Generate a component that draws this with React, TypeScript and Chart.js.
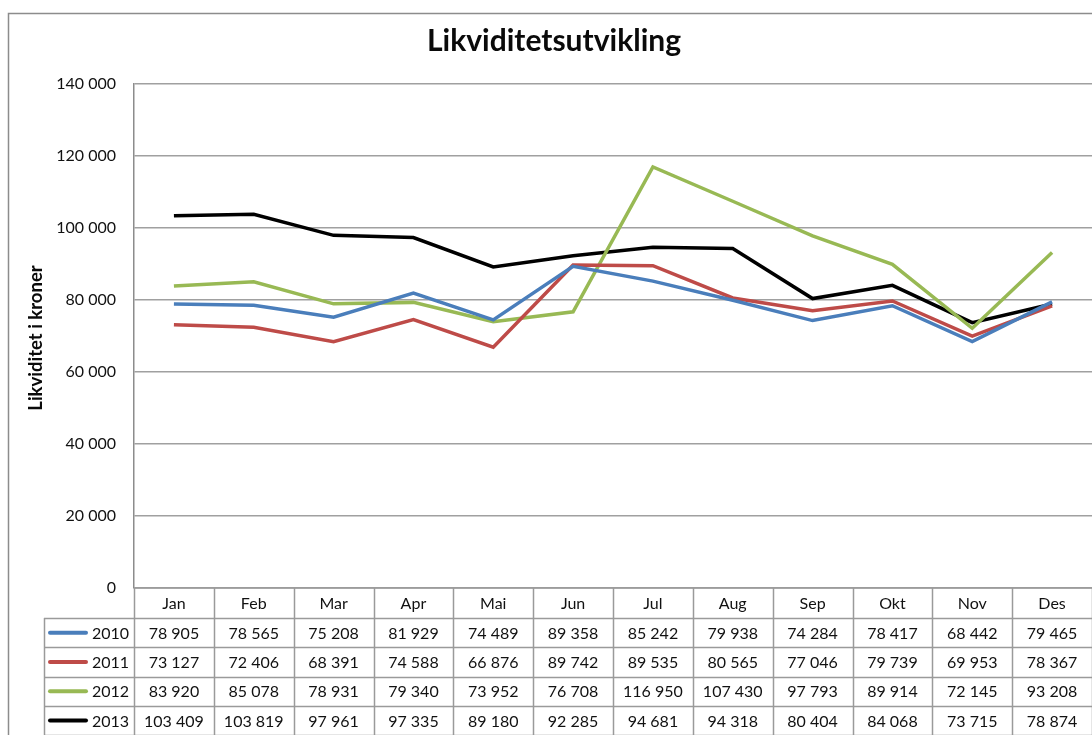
import { useEffect, useRef } from "react";
import { Chart, registerables } from "chart.js";

Chart.register(...registerables);

const chartTitle = "Likviditetsutvikling";
const yAxisTitle = "Likviditet i kroner";
const months = ["Jan", "Feb", "Mar", "Apr", "Mai", "Jun", "Jul", "Aug", "Sep", "Okt", "Nov", "Des"];
const seriesNames = ["2010", "2011", "2012", "2013"];
const values2010 = [78905, 78565, 75208, 81929, 74489, 89358, 85242, 79938, 74284, 78417, 68442, 79465];
const values2011 = [73127, 72406, 68391, 74588, 66876, 89742, 89535, 80565, 77046, 79739, 69953, 78367];
const values2012 = [83920, 85078, 78931, 79340, 73952, 76708, 116950, 107430, 97793, 89914, 72145, 93208];
const values2013 = [103409, 103819, 97961, 97335, 89180, 92285, 94681, 94318, 80404, 84068, 73715, 78874];
const seriesColors = ["#4a7ebb", "#be4b48", "#98b954", "#000000"];
const yMin = 0;
const yMax = 140000;
const yStep = 20000;

const FONT = "Lato, 'Open Sans', sans-serif";

const fmt = (n: number) => String(n).replace(/\B(?=(\d{3})+(?!\d))/g, " ");

export default function App() {
  const ref = useRef<HTMLCanvasElement | null>(null);

  useEffect(() => {
    const canvas = ref.current;
    if (!canvas) return;
    const allValues = [values2010, values2011, values2012, values2013];

    const decor = {
      id: "decor",
      afterDraw(chart: any) {
        const ctx = chart.ctx as CanvasRenderingContext2D;
        const area = chart.chartArea;
        const xs = chart.scales.x;
        const colW = (area.right - area.left) / months.length;
        ctx.save();
        // outer border
        ctx.strokeStyle = "#8c8c8c";
        ctx.lineWidth = 1.5;
        ctx.strokeRect(8.5, 13.5, 1300, 900);
        // title
        ctx.fillStyle = "#0a0a0a";
        ctx.font = `bold 30px ${FONT}`;
        ctx.textAlign = "center";
        ctx.textBaseline = "middle";
        ctx.fillText(chartTitle, 554, 41);
        // y title
        ctx.save();
        ctx.translate(36, 338);
        ctx.rotate(-Math.PI / 2);
        ctx.font = `bold 18.5px ${FONT}`;
        ctx.fillText(yAxisTitle, 0, 0);
        ctx.restore();

        // data table
        const top = area.bottom;
        const headerH = 30;
        const rowH = 29.3;
        const legendLeft = 44;
        const bottom = 760;
        ctx.strokeStyle = "#9a9a9a";
        ctx.lineWidth = 1.5;
        ctx.beginPath();
        ctx.moveTo(area.left, top);
        ctx.lineTo(area.right + 5, top);
        for (let r = 0; r <= seriesNames.length; r++) {
          const y = Math.round(top + headerH + r * rowH) + 0.5;
          ctx.moveTo(legendLeft, y);
          ctx.lineTo(area.right + 5, y);
        }
        ctx.moveTo(legendLeft + 0.5, top + headerH);
        ctx.lineTo(legendLeft + 0.5, bottom);
        for (let i = 0; i <= months.length; i++) {
          const x = Math.round(area.left + i * colW) + 0.5;
          ctx.moveTo(x, top);
          ctx.lineTo(x, bottom);
        }
        ctx.stroke();

        ctx.fillStyle = "#111";
        ctx.textAlign = "center";
        ctx.textBaseline = "middle";
        ctx.font = `16px ${FONT}`;
        months.forEach((m, i) => {
          ctx.fillText(m, xs.getPixelForValue(i), top + headerH / 2 + 1);
        });
        allValues.forEach((vals, r) => {
          const cy = top + headerH + r * rowH + rowH / 2 + 1;
          vals.forEach((v, i) => {
            ctx.fillText(fmt(v), xs.getPixelForValue(i), cy);
          });
        });
        // legend keys
        seriesNames.forEach((name, r) => {
          const cy = top + headerH + r * rowH + rowH / 2;
          ctx.strokeStyle = seriesColors[r];
          ctx.lineWidth = 4;
          ctx.lineCap = "round";
          ctx.beginPath();
          ctx.moveTo(50, cy);
          ctx.lineTo(86, cy);
          ctx.stroke();
          ctx.fillStyle = "#111";
          ctx.font = `16px ${FONT}`;
          ctx.textAlign = "right";
          ctx.fillText(name, 129, cy + 1);
        });
        ctx.restore();
      },
    };

    const chart = new Chart(canvas, {
      type: "line",
      data: {
        labels: months,
        datasets: allValues.map((vals, i) => ({
          label: seriesNames[i],
          data: vals,
          borderColor: seriesColors[i],
          backgroundColor: seriesColors[i],
          borderWidth: 3.5,
          pointRadius: 0,
          tension: 0,
          fill: false,
        })),
      },
      options: {
        responsive: false,
        animation: false,
        devicePixelRatio: 1,
        layout: { padding: { top: 84, left: 0, right: 0, bottom: 147 } },
        plugins: { legend: { display: false }, title: { display: false }, tooltip: { enabled: false } },
        scales: {
          x: { type: "category", display: false, offset: true },
          y: {
            min: yMin,
            max: yMax,
            afterFit: (s: any) => {
              s.width = 134;
            },
            ticks: {
              stepSize: yStep,
              padding: 18,
              color: "#111",
              font: { family: FONT, size: 16 },
              callback: (v: any) => fmt(Number(v)),
            },
            grid: { color: "#a0a0a0", lineWidth: 1.5, drawTicks: false },
            border: { display: true, color: "#8c8c8c", width: 1.5 },
          },
        },
      },
      plugins: [decor],
    });
    return () => chart.destroy();
  }, []);

  return (
    <canvas
      ref={ref}
      width={1092}
      height={735}
      style={{ position: "fixed", left: 0, top: 0, width: 1092, height: 735, background: "#fff" }}
    />
  );
}
